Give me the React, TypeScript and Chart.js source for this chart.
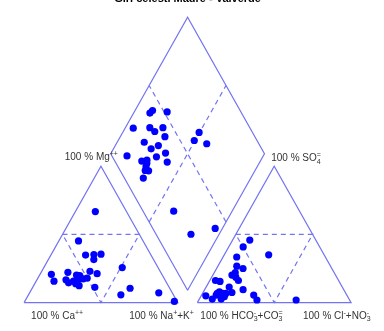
import React, { useEffect, useRef } from "react";
import { Chart, registerables } from "chart.js";

Chart.register(...registerables);

const TITLE = "Giri celesti Madre - Valverde";

// Cation triangle: % Na+K (towards right corner), % Mg (towards apex)
const cationNaK = [13.0, 12.8, 22.6, 27.8, 32.3, 29.6, 51.0, 7.4, 11.6, 17.4, 24.0, 26.3, 31.4, 36.9, 18.9, 21.7, 26.7, 29.6, 29.8, 32.1, 27.2, 40.4, 60.1, 63.7, 84.0, 97.3, 24.3];
const cationMg = [66.7, 45.2, 34.8, 35.2, 35.5, 31.5, 25.7, 20.7, 15.7, 22.2, 20.2, 19.8, 22.9, 21.2, 16.7, 14.5, 13.8, 12.4, 17.4, 17.9, 17.2, 11.2, 5.7, 10.5, 7.2, 0.9, 15.7];

// Anion triangle: % Cl+NO3 (towards right corner), % SO4 (towards apex)
const anionCl = [11.2, 9.4, 28.9, 8.9, 12.3, 17.2, 13.7, 12.4, 15.7, 18.6, 3.7, 7.0, 15.0, 18.8, 25.0, 10.4, 9.6, 13.1, 15.4, 14.2, 8.4, 3.0, 33.9, 37.8, 63.3, 9.5, 15.2];
const anionSO4 = [45.8, 40.8, 35.0, 33.4, 26.7, 25.0, 21.9, 20.2, 18.6, 16.2, 16.2, 15.5, 11.4, 7.4, 9.5, 7.9, 6.7, 6.7, 4.3, 2.6, 2.6, 5.0, 5.5, 1.9, 1.9, 5.5, 6.7];

// Diamond: % Ca+Mg and % SO4+Cl
const diamondCaMg = [88.6, 89.4, 78.6, 94.7, 84.1, 79.5, 75.6, 71.0, 82.4, 75.5, 72.0, 64.6, 69.1, 88.6, 77.1, 74.1, 60.2, 72.3, 50.3, 50.5, 41.2, 73.0, 71.4, 69.1, 69.9, 38.0, 18.3, 4.7];
const diamondSO4Cl = [43.0, 40.4, 52.0, 24.0, 35.0, 36.8, 43.5, 41.5, 26.0, 28.1, 34.0, 35.9, 28.6, 9.8, 17.5, 21.2, 33.7, 18.2, 65.3, 59.2, 66.1, 20.0, 16.3, 18.4, 12.3, 19.9, 22.7, 40.6];

type Seg = [string, "n" | "u" | "d"];
const LABEL_MG: Seg[] = [["100 % Mg", "n"], ["++", "u"]];
const LABEL_SO4: Seg[] = [["100 % SO", "n"], ["4", "d"], ["=", "u"]];
const LABEL_CA: Seg[] = [["100 % Ca", "n"], ["++", "u"]];
const LABEL_NA: Seg[] = [["100 % Na", "n"], ["+", "u"], ["+K", "n"], ["+", "u"]];
const LABEL_HCO3: Seg[] = [["100 % HCO", "n"], ["3", "d"], ["-", "u"], ["+CO", "n"], ["3", "d"], ["=", "u"]];
const LABEL_CL: Seg[] = [["100 % Cl", "n"], ["-", "u"], ["+NO", "n"], ["3", "d"], ["-", "u"]];

// geometry (triangle side = 100 units)
const H = Math.sqrt(3) / 2;
const GAP = 12.7;
const DIAMOND_BASE = 7.86;

const cation = (na: number, mg: number) => ({ x: na + mg / 2, y: mg * H });
const anion = (cl: number, so4: number) => ({ x: 100 + GAP + cl + so4 / 2, y: so4 * H });
const diamond = (c: number, s: number) => ({
  x: 100 + GAP / 2 + (s - c) / 2,
  y: DIAMOND_BASE + (c + s) * H,
});

const LINE = "#7474f2";
const DOT = "#0000ff";

function drawRich(ctx: CanvasRenderingContext2D, segs: Seg[], x: number, y: number, align: "left" | "right") {
  const fN = "10px 'Liberation Sans', Arial, sans-serif";
  const fS = "7px 'Liberation Sans', Arial, sans-serif";
  const widths: number[] = [];
  let total = 0;
  let prevKind = "n";
  let prevW = 0;
  segs.forEach(([t, k]) => {
    ctx.font = k === "n" ? fN : fS;
    const w = ctx.measureText(t).width;
    widths.push(w);
    if (k === "u" && prevKind === "d") {
      total += Math.max(0, w - prevW);
    } else total += w;
    prevKind = k;
    prevW = w;
  });
  let cx = align === "left" ? x : x - total;
  ctx.textBaseline = "alphabetic";
  ctx.textAlign = "left";
  ctx.fillStyle = "#333333";
  prevKind = "n";
  let prevStart = cx;
  prevW = 0;
  segs.forEach(([t, k], i) => {
    ctx.font = k === "n" ? fN : fS;
    const w = widths[i];
    if (k === "u" && prevKind === "d") {
      ctx.fillText(t, prevStart, y - 4);
      cx = prevStart + Math.max(prevW, w);
    } else {
      const dy = k === "u" ? -4 : k === "d" ? 2.5 : 0;
      ctx.fillText(t, cx, y + dy);
      prevStart = cx;
      cx += w;
    }
    prevKind = k;
    prevW = w;
  });
}

const labelPlugin = {
  id: "piperLabels",
  afterDatasetsDraw(chart: any) {
    const ctx: CanvasRenderingContext2D = chart.ctx;
    const xs = chart.scales.x;
    const ys = chart.scales.y;
    const P = (p: { x: number; y: number }) => ({ x: xs.getPixelForValue(p.x), y: ys.getPixelForValue(p.y) });
    ctx.save();
    const mgApex = P(cation(0, 100));
    drawRich(ctx, LABEL_MG, mgApex.x + 17, mgApex.y - 6, "right");
    const so4Apex = P(anion(0, 100));
    drawRich(ctx, LABEL_SO4, so4Apex.x - 3, so4Apex.y - 5, "left");
    const caCorner = P(cation(0, 0));
    drawRich(ctx, LABEL_CA, caCorner.x + 7, caCorner.y + 16, "left");
    const naCorner = P(cation(100, 0));
    drawRich(ctx, LABEL_NA, naCorner.x + 16, naCorner.y + 16, "right");
    const hcoCorner = P(anion(0, 0));
    drawRich(ctx, LABEL_HCO3, hcoCorner.x + 3, hcoCorner.y + 16, "left");
    const clCorner = P(anion(100, 0));
    drawRich(ctx, LABEL_CL, clCorner.x + 19.5, clCorner.y + 16, "right");
    // title (mostly above the visible area, as in the reference)
    const top = P(diamond(100, 100));
    ctx.font = "bold 11px 'Liberation Sans', Arial, sans-serif";
    ctx.fillStyle = "#000";
    ctx.textAlign = "center";
    ctx.textBaseline = "middle";
    ctx.fillText(TITLE, top.x, -1.5);
    ctx.restore();
  },
};

function lineDs(data: { x: number; y: number }[], dashed: boolean) {
  return {
    data,
    showLine: true,
    borderColor: LINE,
    borderWidth: 1.2,
    borderDash: dashed ? [5, 4] : [],
    pointRadius: 0,
    fill: false,
    tension: 0,
    order: 2,
  };
}

function dotDs(data: { x: number; y: number }[]) {
  return {
    data,
    showLine: false,
    backgroundColor: DOT,
    borderColor: DOT,
    borderWidth: 0,
    pointRadius: 3.6,
    order: 0,
  };
}

export default function App() {
  const ref = useRef<HTMLCanvasElement | null>(null);
  useEffect(() => {
    if (!ref.current) return;
    const cationPts = cationNaK.map((na, i) => cation(na, cationMg[i]));
    const anionPts = anionCl.map((cl, i) => anion(cl, anionSO4[i]));
    const diamondPts = diamondCaMg.map((c, i) => diamond(c, diamondSO4Cl[i]));

    const datasets: any[] = [
      dotDs(cationPts),
      dotDs(anionPts),
      dotDs(diamondPts),
      lineDs([cation(0, 0), cation(100, 0), cation(0, 100), cation(0, 0)], false),
      lineDs([anion(0, 0), anion(100, 0), anion(0, 100), anion(0, 0)], false),
      lineDs([diamond(0, 0), diamond(0, 100), diamond(100, 100), diamond(100, 0), diamond(0, 0)], false),
      lineDs([cation(0, 50), cation(50, 50), cation(50, 0), cation(0, 50)], true),
      lineDs([anion(0, 50), anion(50, 50), anion(50, 0), anion(0, 50)], true),
      lineDs([diamond(50, 0), diamond(50, 100)], true),
      lineDs([diamond(0, 50), diamond(100, 50)], true),
    ];

    const chart = new Chart(ref.current, {
      type: "scatter",
      data: { datasets },
      options: {
        animation: false,
        responsive: false,
        events: [],
        layout: { padding: 0 },
        plugins: { legend: { display: false }, tooltip: { enabled: false }, title: { display: false } },
        scales: {
          x: { type: "linear", min: -13.06, max: 231.5, display: false },
          y: { type: "linear", min: -15.48, max: 189.47, display: false },
        },
      },
      plugins: [labelPlugin],
    });
    return () => chart.destroy();
  }, []);

  return (
    <div style={{ position: "fixed", left: 0, top: 0, width: 384, height: 331, background: "#fff" }}>
      <canvas ref={ref} width={384} height={331} style={{ width: 384, height: 331, display: "block" }} />
    </div>
  );
}
